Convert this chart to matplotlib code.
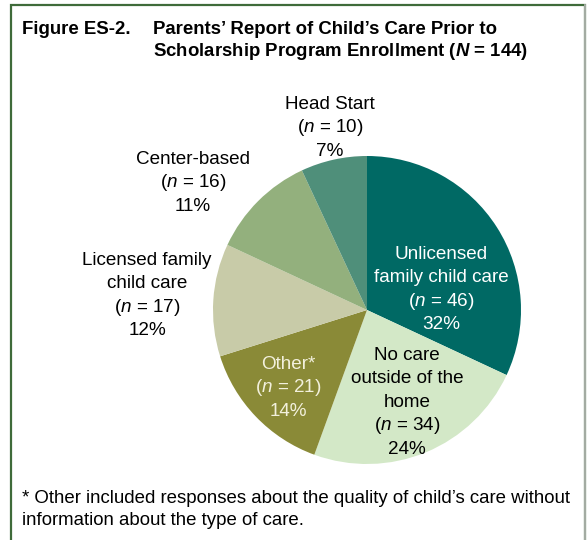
import matplotlib
matplotlib.use("Agg")
import matplotlib.pyplot as plt
from matplotlib.patches import Rectangle

plt.rcParams['font.family'] = ['Liberation Sans', 'DejaVu Sans']
plt.rcParams['mathtext.fontset'] = 'custom'
plt.rcParams['mathtext.it'] = 'Liberation Sans:italic'
plt.rcParams['mathtext.rm'] = 'Liberation Sans'
plt.rcParams['mathtext.bfit'] = 'Liberation Sans:bold:italic'

# care types, clockwise from 12 o'clock
categories = ["Unlicensed\nfamily child care", "No care\noutside of the\nhome", "Other*",
              "Licensed family\nchild care", "Center-based", "Head Start"]
counts = [46, 34, 21, 17, 16, 10]
percents = [32, 24, 14, 12, 11, 7]
colors = ["#006964", "#d3e8c7", "#8a8a37", "#c8cba8", "#93b07d", "#4f8f7a"]
text_colors = ["white", "black", "#f2f0dc", "black", "black", "black"]
N = 144

W, H = 587, 540
fig = plt.figure(figsize=(W / 100, H / 100), dpi=100)
ax = fig.add_axes([0, 0, 1, 1])

# frame (y measured from the top, flipped when drawn)
ax.add_patch(Rectangle((11, -20), 574, H - 5 + 20, fill=False, edgecolor="#3f6b3a", lw=1.6))
ax.plot([585, 585], [0, H - 5], color="#b8b8b8", lw=1.2)

cx, cy, r = 367, 310, 154
ax.pie(counts, colors=colors, startangle=90, counterclock=False,
       center=(cx, H - cy), radius=r, frame=True)
ax.set_xlim(0, W)
ax.set_ylim(0, H)
ax.axis('off')


def put(x, y, s, size, **kw):
    # y is the middle of the capitals, counted from the top
    ax.text(x, H - y - 0.36 * size * 100 / 72, s, fontsize=size, va='baseline', **kw)


# title
put(22, 27, "Figure ES-2.", 13.4, fontweight='bold')
put(153, 27, "Parents\u2019 Report of Child\u2019s Care Prior to", 13.4, fontweight='bold')
put(153, 49, "Scholarship Program Enrollment ($\\mathbfit{N}$ = %d)" % N, 13.4,
    fontweight='bold')

# slice labels, one line at a time so the spacing stays even
label_pos = [(441, 252), (407, 353), (288, 362), (147, 258), (193, 157), (330, 102)]
step = 23.5
for name, n, p, (x, y0), tc in zip(categories, counts, percents, label_pos, text_colors):
    lines = name.split("\n") + ["($n$ = %d)" % n, "%d%%" % p]
    for i, line in enumerate(lines):
        put(x, y0 + i * step, line, 13.6, color=tc, ha='center')

# footnote
put(22, 496, "* Other included responses about the quality of child\u2019s care without", 13.4)
put(22, 518, "information about the type of care.", 13.4)

fig.savefig("out.png", dpi=100)
